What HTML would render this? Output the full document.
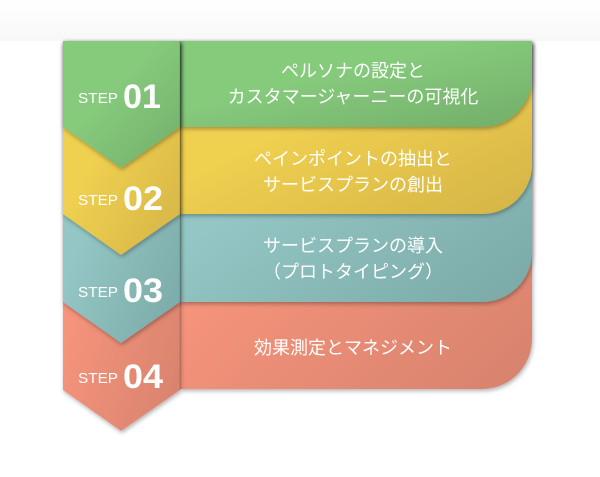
<!DOCTYPE html>
<html><head><meta charset="utf-8"><style>
body{margin:0;width:600px;height:472px;background:#fff;overflow:hidden;font-family:"Liberation Sans","Noto Sans CJK JP",sans-serif}
</style></head><body>
<svg width="600" height="472" xmlns="http://www.w3.org/2000/svg">
<defs>
<linearGradient id="top" x1="0" y1="0" x2="0" y2="1"><stop offset="0" stop-color="#fff"/><stop offset="1" stop-color="#f8f8f8"/></linearGradient>
<linearGradient id="g1" x1="0" y1="0" x2="1" y2="1"><stop offset="0.4" stop-color="#86ca7c"/><stop offset="1" stop-color="#72ae6a"/></linearGradient>
<linearGradient id="g2" x1="0" y1="0" x2="1" y2="1"><stop offset="0.4" stop-color="#f0d050"/><stop offset="1" stop-color="#d4b446"/></linearGradient>
<linearGradient id="g3" x1="0" y1="0" x2="1" y2="1"><stop offset="0.4" stop-color="#93c6c4"/><stop offset="1" stop-color="#7aa9a7"/></linearGradient>
<linearGradient id="g4" x1="0" y1="0" x2="1" y2="1"><stop offset="0.4" stop-color="#f5937b"/><stop offset="1" stop-color="#d6826d"/></linearGradient>
<filter id="sh" x="-10%" y="-10%" width="130%" height="130%"><feDropShadow dx="1" dy="2" stdDeviation="2" flood-color="#000" flood-opacity="0.3"/></filter>
</defs>
<rect x="0" y="0" width="600" height="41" fill="url(#top)"/>
<path d="M180 41H532V339A50 50 0 0 1 482 389H180Z" fill="url(#g4)" filter="url(#sh)"/>
<path d="M180 41H532V252A50 50 0 0 1 482 302H180Z" fill="url(#g3)" filter="url(#sh)"/>
<path d="M180 41H532V164A50 50 0 0 1 482 214H180Z" fill="url(#g2)" filter="url(#sh)"/>
<path d="M180 41H532V77A50 50 0 0 1 482 127H180Z" fill="url(#g1)" filter="url(#sh)"/>
<polygon points="63,41 180,41 180,390 121,431 63,390" fill="url(#g4)" filter="url(#sh)"/>
<polygon points="63,41 180,41 180,302 121,343 63,302" fill="url(#g3)" filter="url(#sh)"/>
<polygon points="63,41 180,41 180,214 121,255 63,214" fill="url(#g2)" filter="url(#sh)"/>
<polygon points="63,41 180,41 180,127 121,168 63,127" fill="url(#g1)" filter="url(#sh)"/>
<line x1="180" y1="41" x2="180" y2="390" stroke="#000" stroke-opacity="0.15"/>
<g fill="#fff">
<text x="78" y="103" font-size="15" textLength="40" lengthAdjust="spacingAndGlyphs">STEP</text><text x="123" y="108" font-size="34" font-weight="bold" textLength="38" lengthAdjust="spacingAndGlyphs">01</text>
<text x="78" y="205" font-size="15" textLength="40" lengthAdjust="spacingAndGlyphs">STEP</text><text x="123" y="210" font-size="34" font-weight="bold" textLength="40" lengthAdjust="spacingAndGlyphs">02</text>
<text x="78" y="297" font-size="15" textLength="40" lengthAdjust="spacingAndGlyphs">STEP</text><text x="123" y="302" font-size="34" font-weight="bold" textLength="40" lengthAdjust="spacingAndGlyphs">03</text>
<text x="78" y="383" font-size="15" textLength="40" lengthAdjust="spacingAndGlyphs">STEP</text><text x="123" y="388" font-size="34" font-weight="bold" textLength="40" lengthAdjust="spacingAndGlyphs">04</text>
</g>
<g fill="#fff" font-size="18" text-anchor="middle" font-family="'Liberation Sans','Noto Sans CJK JP',sans-serif">
<text x="353" y="77">ペルソナの設定と</text>
<text x="353" y="103">カスタマージャーニーの可視化</text>
<text x="353" y="165">ペインポイントの抽出と</text>
<text x="353" y="191">サービスプランの創出</text>
<text x="353" y="252">サービスプランの導入</text>
<text x="353" y="278">（プロトタイピング）</text>
<text x="353" y="354">効果測定とマネジメント</text>
</g>
</svg>
</body></html>
